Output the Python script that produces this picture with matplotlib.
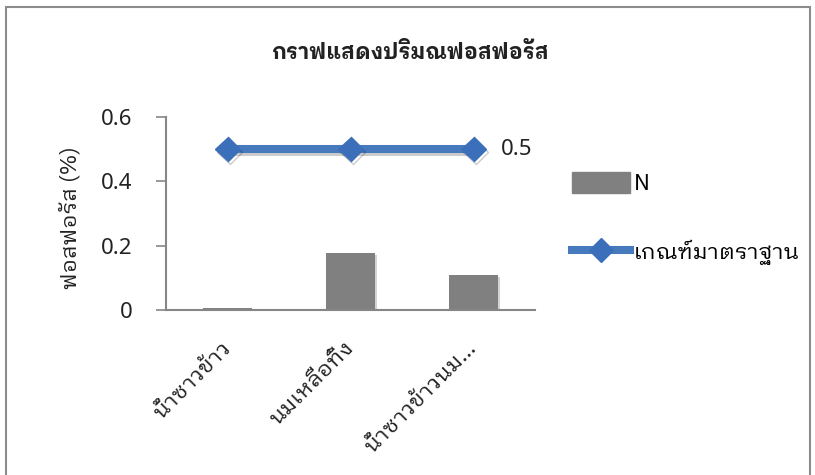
import matplotlib
matplotlib.use('Agg')
import matplotlib.pyplot as plt
from matplotlib.patches import Rectangle
from matplotlib.lines import Line2D
from matplotlib import patheffects as pe

plt.rcParams['font.family'] = ['IBM Plex Sans Thai Looped', 'Noto Sans', 'DejaVu Sans']

# data
categories = ['น้ำซาวข้าว', 'นมเหลือทิ้ง', 'น้ำซาวข้าวนม...']
n_values = [0.006, 0.177, 0.108]
standard = [0.5, 0.5, 0.5]
yticks = [0, 0.2, 0.4, 0.6]
ytick_labels = ['0', '0.2', '0.4', '0.6']

bar_color = '#808080'
line_color = '#4779bd'
marker_color = '#3c6fba'
axis_color = '#868686'
text_color = '#222222'

fig = plt.figure(figsize=(8.15, 4.75), dpi=100)
fig.patches.append(Rectangle((6 / 815, -0.01), 804 / 815, 1 - 7 / 475 + 0.01,
                             transform=fig.transFigure, fill=False,
                             edgecolor='#8c8c8c', linewidth=1.5))

ax = fig.add_axes([166 / 815, 1 - 310 / 475, 369 / 815, 193 / 475])
x = list(range(len(categories)))

bars = ax.bar(x, n_values, width=0.40, color=bar_color, label='N', zorder=2)
for b in bars:
    b.set_path_effects([pe.SimplePatchShadow(offset=(1.2, -1.2), alpha=0.2), pe.Normal()])

line, = ax.plot(x, standard, color=line_color, linewidth=5.8, marker='D',
                markersize=12.5, markerfacecolor=marker_color,
                markeredgecolor=marker_color, label='เกณฑ์มาตราฐาน', zorder=3)
line.set_path_effects([pe.SimpleLineShadow(offset=(1.5, -2), alpha=0.2), pe.Normal()])

ax.annotate('0.5', (x[-1], standard[-1]), xytext=(20, 0), textcoords='offset points',
            va='center', ha='left', fontsize=16, color=text_color, family='Noto Sans')

ax.set_xlim(-0.5, len(categories) - 0.5)
ax.set_ylim(0, 0.6)
ax.set_yticks(yticks)
ax.set_yticklabels(ytick_labels, fontsize=16, color=text_color, family='Noto Sans')
ax.set_xticks(x)
ax.set_xticklabels(categories, rotation=45, ha='right', va='center',
                   rotation_mode='anchor', fontsize=16, color=text_color)
ax.tick_params(axis='x', length=0, pad=25)
ax.tick_params(axis='y', length=7, width=1.2, color=axis_color, pad=17)

for s in ['top', 'right']:
    ax.spines[s].set_visible(False)
for s in ['left', 'bottom']:
    ax.spines[s].set_color(axis_color)
    ax.spines[s].set_linewidth(1.5)

fig.text(0.503, 0.89, 'กราฟแสดงปริมณฟอสฟอรัส', ha='center', va='center',
         fontsize=15.5, fontweight='bold', color=text_color)
fig.text(70 / 815, 1 - 218 / 475, 'ฟอสฟอรัส (%)', rotation=90, ha='center',
         va='center', fontsize=16, color=text_color)

handles = [Rectangle((0, 0), 1, 1, color=bar_color),
           Line2D([], [], color=line_color, linewidth=5.8, marker='D', markersize=12.5,
                  markerfacecolor=marker_color, markeredgecolor=marker_color)]
fig.legend(handles, ['N', 'เกณฑ์มาตราฐาน'], loc='upper left',
           bbox_to_anchor=(572 / 815, 1 - 172 / 475), frameon=False, fontsize=16,
           handlelength=2.6, handleheight=1.1, handletextpad=0.2,
           labelspacing=2.0, borderpad=0, borderaxespad=0)

fig.savefig('out.png', dpi=100)
